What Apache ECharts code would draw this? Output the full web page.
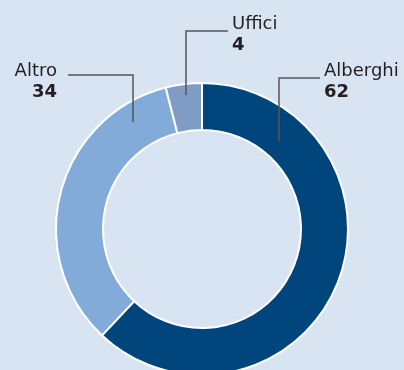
<!DOCTYPE html>
<html>
<head>
<meta charset="utf-8">
<style>
  html, body { margin: 0; padding: 0; background: #d9e4f3; }
  #chart { width: 404px; height: 370px; }
</style>
<script src="https://cdn.jsdelivr.net/npm/echarts@6/dist/echarts.min.js"></script>
</head>
<body>
<div id="chart"></div>
<script>
// Ring segments, clockwise from 12 o'clock
const categories = ['Alberghi', 'Altro', 'Uffici'];
const values = [62, 34, 4];
const colors = ['#00457c', '#82abda', '#7f9cc5'];

// Label placement and elbow leader lines for each segment
const labelSpots = [
  { x: 324, y: 61, align: 'left',  line: [[279, 141], [279, 78], [320, 78]] },
  { x: 57,  y: 61, align: 'right', line: [[133, 122], [133, 75], [68, 75]] },
  { x: 232, y: 14, align: 'left',  line: [[186, 95], [186, 31], [228, 31]] }
];

const textRich = {
  n: { fontFamily: 'DejaVu Sans', fontSize: 18, fill: '#231f20', lineHeight: 21 },
  v: { fontFamily: 'DejaVu Sans', fontSize: 18, fontWeight: 'bold', fill: '#231f20', lineHeight: 21 }
};

const annotations = [];
categories.forEach((name, i) => {
  const s = labelSpots[i];
  annotations.push({
    type: 'polyline',
    z: 10,
    silent: true,
    shape: { points: s.line },
    style: { stroke: '#555555', lineWidth: 1.5, fill: null }
  });
  annotations.push({
    type: 'text',
    z: 10,
    silent: true,
    x: s.x,
    y: s.y,
    style: {
      text: '{n|' + name + '}\n{v|' + values[i] + '}',
      rich: textRich,
      align: s.align,
      verticalAlign: 'top'
    }
  });
});

const chart = echarts.init(document.getElementById('chart'), null, { renderer: 'canvas' });

chart.setOption({
  backgroundColor: '#d9e4f3',
  animation: false,
  series: [{
    type: 'pie',
    center: [202, 229],
    radius: [99, 146],
    startAngle: 90,
    clockwise: true,
    silent: true,
    itemStyle: { borderColor: '#ffffff', borderWidth: 2 },
    label: { show: false },
    labelLine: { show: false },
    data: categories.map((name, i) => ({
      name: name,
      value: values[i],
      itemStyle: { color: colors[i] }
    }))
  }],
  graphic: annotations
});
</script>
</body>
</html>
